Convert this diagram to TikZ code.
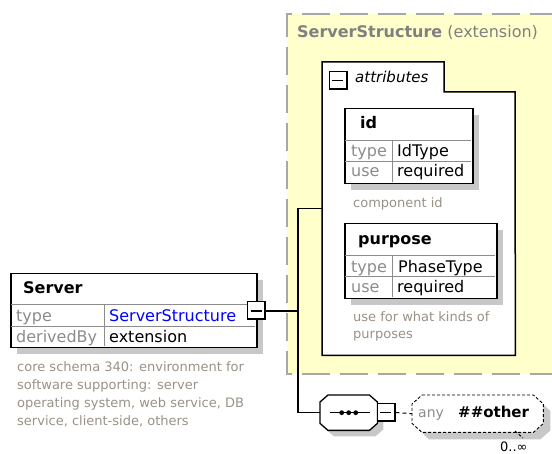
\documentclass[tikz,border=0pt]{standalone}
\usepackage{fontspec}
\setmainfont{DejaVu Sans}
\usetikzlibrary{calc,shadows}
\definecolor{bgyel}{RGB}{255,255,204}
\definecolor{dashc}{RGB}{168,168,168}
\definecolor{titlec}{RGB}{128,128,128}
\definecolor{shadowc}{RGB}{200,200,200}
\definecolor{lblc}{RGB}{140,140,140}
\definecolor{annc}{RGB}{155,145,135}
\definecolor{sepc}{RGB}{140,140,140}
\definecolor{linkblue}{RGB}{0,0,255}
\newcommand\fs[1]{\fontsize{#1}{#1}\selectfont}
% octagon path around a holder node: name, chamfer x, chamfer y, offset
\newcommand\octa[4]{($(#1.north west)+(#2+#4,#4)$) -- ($(#1.north east)+(-#2+#4,#4)$) -- ($(#1.north east)+(#4,#3+#4)$) -- ($(#1.south east)+(#4,-#3+#4)$) -- ($(#1.south east)+(-#2+#4,#4)$) -- ($(#1.south west)+(#2+#4,#4)$) -- ($(#1.south west)+(#4,-#3+#4)$) -- ($(#1.north west)+(#4,#3+#4)$) -- cycle}
\newcommand\minusbtn[2]{%
  \node[minusbox] (#1) at (#2) {};
  \draw[line width=2pt] ([xshift=-1pt]#1.north east) -- ([xshift=-1pt,yshift=1pt]#1.south east) -- ([yshift=1pt]#1.south west);
}
\begin{document}
\begin{tikzpicture}[x=1pt,y=-1pt,
  txt/.style={anchor=base west, inner sep=0pt, font=\fs{16}},
  lbl/.style={txt, text=lblc},
  hdr/.style={txt, font=\fs{16}\bfseries},
  ann/.style={txt, font=\fs{13}, text=annc},
  tbox/.style={draw=black, line width=1.5pt, fill=white, anchor=north west, inner sep=0pt,
    general shadow={fill=shadowc, shadow xshift=6pt, shadow yshift=-6pt}},
  sepline/.style={draw=sepc, line width=1pt},
  conn/.style={draw=black, line width=1.3pt},
  holder/.style={inner sep=0pt, anchor=north west},
  minusbox/.style={draw=black, line width=1pt, fill=white, minimum size=18pt, inner sep=0pt,
    path picture={\draw[line width=1.3pt] ([xshift=3pt]path picture bounding box.west) -- ([xshift=-4pt]path picture bounding box.east);}}
]
\useasboundingbox (0,0) rectangle (552,454);
\clip (0,0) rectangle (552,454);

% ---- ServerStructure extension area
\fill[bgyel] (287,14) rectangle (560,374);
\draw[dashc, line width=2.5pt, dash pattern=on 28pt off 10pt] (558,14) -- (287,14) -- (287,374) -- (558,374);
\node[txt, text=titlec] (ttl) at (297,38) {\bfseries ServerStructure\mdseries{} (extension)};

% ---- attributes container
\node[holder, minimum width=193pt, minimum height=293pt] (attr) at (322,62) {};
\draw[black, line width=1.5pt, fill=white] (attr.north west) -- ++(122,0) -- ++(0,30) -- ++(71,0) -- (attr.south east) -- (attr.south west) -- cycle;
\minusbtn{amin}{338,80.5}
\node[txt, font=\fs{15}\itshape] (attrlbl) at (355,83) {attributes};

% ---- id attribute
\node[tbox, minimum width=128pt, minimum height=75pt] (idbox) at (344,108) {};
\draw[sepline] (345,141) -- (471,141);
\draw[sepline] (345,162) -- (471,162);
\draw[sepline] (392,141) -- (392,182);
\node[hdr] (idname) at (360,129) {id};
\node[lbl] (idtl) at (351,157) {type};
\node[txt] (idtv) at (397,157) {IdType};
\node[lbl] (idul) at (351,177) {use};
\node[txt] (iduv) at (397,177) {required};
\node[ann] (idann) at (353,208) {component id};

% ---- purpose attribute
\node[tbox, minimum width=152pt, minimum height=75pt] (purp) at (344,223) {};
\draw[sepline] (345,256) -- (495,256);
\draw[sepline] (345,277) -- (495,277);
\draw[sepline] (392,256) -- (392,297);
\node[hdr] (pname) at (358,245) {purpose};
\node[lbl] (ptl) at (351,273) {type};
\node[txt] (ptv) at (398,273) {PhaseType};
\node[lbl] (pul) at (351,293) {use};
\node[txt] (puv) at (397,293) {required};
\node[ann] (pann1) at (353,322) {use for what kinds of};
\node[ann] (pann2) at (353,339) {purposes};

% ---- Server element
\node[tbox, minimum width=246pt, minimum height=74pt] (server) at (10,273) {};
\draw[sepline] (11,305) -- (255,305);
\draw[sepline] (11,327) -- (255,327);
\draw[sepline] (104,305) -- (104,346);
\node[hdr] (sname) at (23,294) {Server};
\node[lbl] (stl) at (16,322) {type};
\node[txt, text=linkblue] (stv) at (109,322) {ServerStructure};
\node[lbl] (sdl) at (16,343) {derivedBy};
\node[txt] (sdv) at (109,343) {extension};
\minusbtn{smin}{256.5,311}
\node[ann] (sd1) at (17,372) {core schema 340: environment for};
\node[ann] (sd2) at (17,390) {software supporting: server};
\node[ann] (sd3) at (17,408) {operating system, web service, DB};
\node[ann] (sd4) at (17,426) {service, client-side, others};

% ---- sequence compositor
\node[holder, minimum width=57pt, minimum height=35pt] (seq) at (320,395) {};
\fill[shadowc] \octa{seq}{8}{7}{6};
\draw[black, line width=1.3pt, fill=white] \octa{seq}{8}{7}{0};
\draw[line width=1.3pt] ($(seq.west)+(10,0)$) -- ($(seq.east)+(-7,0)$);
\fill ($(seq.center)+(-7,0)$) circle (2.4);
\fill ($(seq.center)+(0,0)$) circle (2.4);
\fill ($(seq.center)+(7,0)$) circle (2.4);
\minusbtn{qmin}{386,412.5}

% ---- any ##other wildcard
\node[holder, minimum width=131pt, minimum height=37pt] (anyb) at (412,395) {};
\fill[shadowc] \octa{anyb}{10}{9}{7};
\draw[black, line width=0.9pt, dash pattern=on 3pt off 2pt, fill=white] \octa{anyb}{10}{9}{0};
\draw[black, line width=0.9pt, dash pattern=on 3pt off 2pt] (515,431) -- (523,438);
\node[txt, font=\fs{14}, text=lblc] (anyl) at (418,418) {any};
\node[txt, font=\fs{15}\bfseries] (anyv) at (458,418) {\#\#other};
\node[txt, font=\fs{13}] (card) at (500,451) {0..∞};

% ---- connectors
\draw[conn] (smin.east) -| ($(attr.west)+(-24,0)$) -- (attr.west);
\draw[conn] (smin.east) -| ($(seq.west)+(-22,0)$) -- (seq.west);
\draw[black, line width=1pt, dash pattern=on 4pt off 3pt] (qmin.east) -- (anyb.west);
\end{tikzpicture}
\end{document}
